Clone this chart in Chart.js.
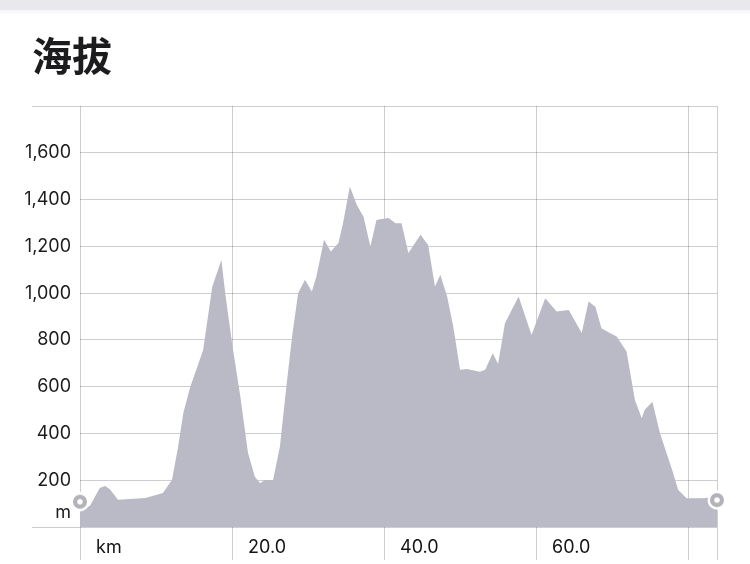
<!DOCTYPE html>
<html><head><meta charset="utf-8">
<style>html,body{margin:0;padding:0;background:#fff;} #wrap{position:relative;width:750px;height:564px;}</style>
<script src="https://cdn.jsdelivr.net/npm/chart.js@4"></script>
</head><body><div id="wrap"><canvas id="c" width="750" height="564"></canvas></div>
<script>
// ---- data ----
const kmValues = [0, 1.3, 2.6, 3.3, 3.9, 5.0, 8.6, 10.9, 12.1, 12.9, 13.6, 14.5, 16.2, 17.4, 18.6, 19.1, 20.0, 21.1, 22.1, 23.0, 23.7, 24.3, 25.4, 26.3, 27.2, 27.9, 28.7, 29.6, 30.5, 31.1, 32.1, 33.0, 34.0, 34.6, 35.5, 36.4, 37.3, 38.2, 39.0, 39.5, 40.6, 41.5, 42.3, 43.2, 44.8, 45.8, 46.7, 47.4, 48.3, 49.1, 50.0, 50.9, 52.6, 53.3, 54.3, 55.0, 55.9, 57.7, 59.4, 61.2, 62.7, 64.3, 66.0, 66.9, 67.8, 68.6, 69.7, 70.6, 71.9, 73.0, 73.9, 74.3, 75.3, 76.3, 77.9, 78.7, 79.8, 82.0, 83.8];
const elevations = [80, 90, 167, 175, 163, 116, 124, 145, 201, 342, 488, 599, 757, 1027, 1142, 1001, 787, 556, 317, 215, 187, 201, 201, 344, 616, 814, 1000, 1057, 1007, 1071, 1228, 1178, 1214, 1299, 1456, 1378, 1327, 1199, 1313, 1316, 1321, 1299, 1299, 1171, 1249, 1206, 1028, 1078, 985, 857, 672, 676, 664, 672, 743, 697, 871, 985, 821, 978, 921, 928, 829, 964, 942, 850, 829, 814, 750, 543, 465, 501, 536, 401, 244, 158, 123, 123, 130];
const markerKm = [0, 83.8];
const markerElev = [108, 115];
const xTickValues = [0, 20, 40, 60, 80, 83.8];
const xTickLabels = ['km', '20.0', '40.0', '60.0', '', ''];
const yTickValues = [0, 60, 200, 400, 600, 800, 1000, 1200, 1400, 1600, 1800];
const yTickLabels = ['', 'm', '200', '400', '600', '800', '1,000', '1,200', '1,400', '1,600', ''];
const titleText = '海拔';

// ---- styles ----
const FILL = '#bab9c6';
const GRID = 'rgba(10,10,30,0.2)';
const NONE = 'rgba(0,0,0,0)';
const FONT = 'Inter, "Noto Sans", sans-serif';

const marker = document.createElement('canvas');
marker.width = 20; marker.height = 20;
(function(){
  const m = marker.getContext('2d');
  m.fillStyle = '#ffffff'; m.beginPath(); m.arc(10,10,9.5,0,Math.PI*2); m.fill();
  m.fillStyle = '#b3b2b8'; m.beginPath(); m.arc(10,10,7,0,Math.PI*2); m.fill();
  m.fillStyle = '#ffffff'; m.beginPath(); m.arc(10,10,2.8,0,Math.PI*2); m.fill();
})();

const bandPlugin = {
  id: 'band',
  beforeDraw(chart) {
    const c = chart.ctx;
    c.save();
    c.fillStyle = '#e9e8ec';
    c.fillRect(0, 0, chart.width, 10);
    const g = c.createLinearGradient(0, 10, 0, 16);
    g.addColorStop(0, 'rgba(0,0,0,0.035)');
    g.addColorStop(1, 'rgba(0,0,0,0)');
    c.fillStyle = g;
    c.fillRect(0, 10, chart.width, 6);
    // chart heading
    c.fillStyle = '#1c1c1e';
    c.font = 'bold 40px "Noto Sans CJK SC", sans-serif';
    c.textAlign = 'left';
    c.textBaseline = 'middle';
    c.fillText(titleText, 32, 56);
    c.restore();
  }
};
const markersOnTop = {
  id: 'markersOnTop',
  afterDraw(chart) {
    chart.getDatasetMeta(1).data.forEach(p => p.draw(chart.ctx));
  }
};

new Chart(document.getElementById('c'), {
  type: 'line',
  data: {
    datasets: [
      {
        data: kmValues.map((k, i) => ({x: k, y: elevations[i]})),
        fill: 'origin',
        backgroundColor: FILL,
        borderColor: FILL,
        borderWidth: 0,
        pointRadius: 0,
        tension: 0
      },
      {
        type: 'scatter',
        data: markerKm.map((k, i) => ({x: k, y: markerElev[i]})),
        pointStyle: marker,
        pointRadius: 9,
        showLine: false,
        clip: false
      }
    ]
  },
  options: {
    responsive: false,
    animation: false,
    events: [],
    layout: {padding: {left: 20, right: 33, top: 106, bottom: 0}},
    plugins: {
      legend: {display: false},
      tooltip: {enabled: false},
      title: {display: false}
    },
    scales: {
      x: {
        type: 'linear', min: 0, max: 83.8, z: 1,
        afterBuildTicks: s => { s.ticks = xTickValues.map(v => ({value: v})); },
        afterFit: s => { s.height = 37; },
        grid: {color: GRID, tickColor: GRID, tickLength: 33, lineWidth: 1},
        border: {display: false},
        ticks: {
          autoSkip: false, maxRotation: 0, minRotation: 0, align: 'start', labelOffset: 16, padding: -23,
          color: '#141414', font: {family: FONT, size: 18},
          callback: (v, i) => xTickLabels[i]
        }
      },
      y: {
        type: 'linear', min: 0, max: 1800, z: 1,
        afterBuildTicks: s => { s.ticks = yTickValues.map(v => ({value: v})); },
        afterFit: s => { s.width = 60; },
        grid: {
          color: c => (c.tick && c.tick.value === 60) ? NONE : GRID,
          tickColor: c => (c.tick && (c.tick.value === 0 || c.tick.value === 1800)) ? GRID : NONE,
          tickLength: 48, lineWidth: 1
        },
        border: {display: false},
        ticks: {
          autoSkip: false, padding: -39,
          color: '#1c1c1e', font: {family: FONT, size: 18},
          callback: (v, i) => yTickLabels[i]
        }
      }
    }
  },
  plugins: [bandPlugin, markersOnTop]
});
</script>
</body></html>
